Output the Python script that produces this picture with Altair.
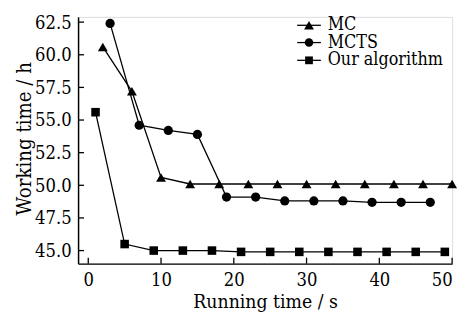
import altair as alt
import pandas as pd

series_names = ["MC", "MCTS", "Our algorithm"]

mc_x = [2, 6, 10, 14, 18, 22, 26, 30, 34, 38, 42, 46, 50]
mc_y = [60.6, 57.2, 50.6, 50.1, 50.1, 50.1, 50.1, 50.1, 50.1, 50.1, 50.1, 50.1, 50.1]

mcts_x = [3, 7, 11, 15, 19, 23, 27, 31, 35, 39, 43, 47]
mcts_y = [62.4, 54.6, 54.2, 53.9, 49.1, 49.1, 48.8, 48.8, 48.8, 48.7, 48.7, 48.7]

ours_x = [1, 5, 9, 13, 17, 21, 25, 29, 33, 37, 41, 45, 49]
ours_y = [55.6, 45.5, 45.0, 45.0, 45.0, 44.9, 44.9, 44.9, 44.9, 44.9, 44.9, 44.9, 44.9]

x_ticks = [0, 10, 20, 30, 40, 50]
y_ticks = [45.0, 47.5, 50.0, 52.5, 55.0, 57.5, 60.0, 62.5]

FONT = "DejaVu Serif Condensed"

rows = []
for name, xs, ys in [("MC", mc_x, mc_y), ("MCTS", mcts_x, mcts_y), ("Our algorithm", ours_x, ours_y)]:
    for a, b in zip(xs, ys):
        rows.append({"series": name, "x": a, "y": b})
df = pd.DataFrame(rows)

xscale = alt.Scale(domain=[-1.4, 50], nice=False, zero=False)
yscale = alt.Scale(domain=[44.0, 62.9], nice=False, zero=False)

xaxis = alt.Axis(values=x_ticks, title="Running time / s", grid=False, tickSize=0,
                 labelPadding=7, labelFont=FONT, labelFontSize=18.5, labelColor="black",
                 titleFont=FONT, titleFontSize=19.5, titleFontWeight="normal", titleColor="black",
                 titleY=44, titleBaseline="alphabetic", domainColor="black", domainWidth=1.5)
yaxis = alt.Axis(values=y_ticks, format=".1f", title="Working time / h", grid=False, tickSize=0,
                 labelPadding=7, labelFont=FONT, labelFontSize=18.5, labelColor="black",
                 titleFont=FONT, titleFontSize=20.5, titleFontWeight="normal", titleColor="black",
                 titleX=-48, titleY=123, titleAngle=-90, titleBaseline="alphabetic", titleAlign="center",
                 domainColor="black", domainWidth=1.5)

X = alt.X("x:Q", scale=xscale, axis=xaxis)
Y = alt.Y("y:Q", scale=yscale, axis=yaxis)

shape_scale = alt.Scale(domain=series_names, range=["triangle-up", "circle", "square"])
size_scale = alt.Scale(domain=series_names, range=[100, 75, 62])

lines = alt.Chart(df).mark_line(color="black", strokeWidth=1.3).encode(
    x=X, y=Y, detail="series:N"
)
points = alt.Chart(df).mark_point(filled=True, color="black", opacity=1).encode(
    x=X, y=Y,
    shape=alt.Shape("series:N", scale=shape_scale, legend=None),
    size=alt.Size("series:N", scale=size_scale, legend=None),
)

xt = pd.DataFrame({"x": x_ticks})
yt = pd.DataFrame({"y": y_ticks})
xtick_rules = alt.Chart(xt).mark_rule(color="black", strokeWidth=1.3).encode(
    x=X, y=alt.value(250), y2=alt.value(244)
)
ytick_rules = alt.Chart(yt).mark_rule(color="black", strokeWidth=1.3).encode(
    y=Y, x=alt.value(0), x2=alt.value(6)
)

legend_layers = []
legend_rows = [8.5, 26, 44]
legend_shapes = ["triangle-up", "circle", "square"]
legend_sizes = [100, 75, 62]
for name, ly, shp, sz in zip(series_names, legend_rows, legend_shapes, legend_sizes):
    d = pd.DataFrame({"series": [name]})
    legend_layers.append(alt.Chart(d).mark_rule(color="black", strokeWidth=1.3).encode(
        x=alt.value(222), x2=alt.value(246), y=alt.value(ly)))
    legend_layers.append(alt.Chart(d).mark_point(filled=True, color="black", opacity=1, shape=shp, size=sz).encode(
        x=alt.value(234), y=alt.value(ly)))
    legend_layers.append(alt.Chart(d).mark_text(font=FONT, fontSize=18, color="black", align="left", baseline="middle").encode(
        x=alt.value(253), y=alt.value(ly), text="series:N"))

chart = alt.layer(lines, points, xtick_rules, ytick_rules, *legend_layers).properties(
    width=379, height=250,
    autosize=alt.AutoSizeParams(type="none"),
    padding={"left": 71, "top": 7, "right": 8, "bottom": 48},
).configure_view(stroke=None).configure(background="white")

chart.save("out.html", embed_options={"renderer": "svg", "actions": False})
